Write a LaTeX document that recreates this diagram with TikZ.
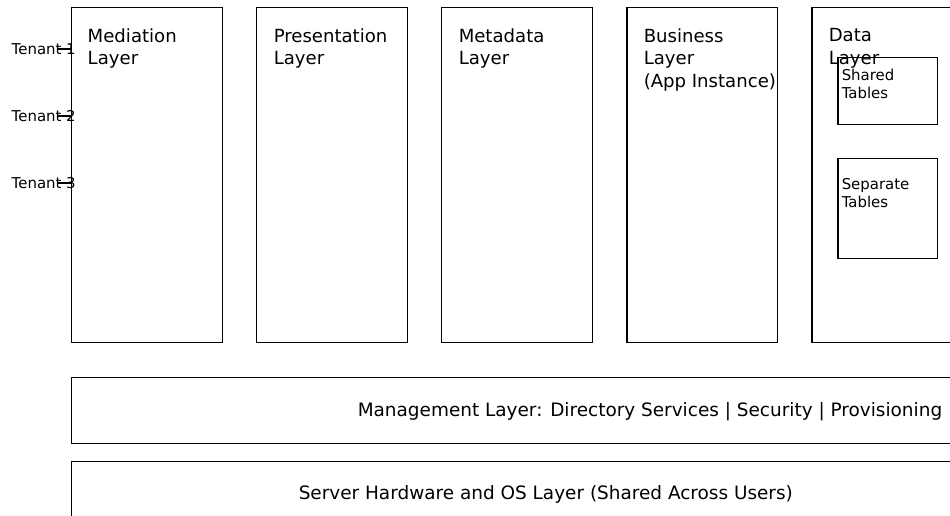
\documentclass[tikz,border=0pt]{standalone}
\usepackage{fontspec}
\setmainfont{DejaVu Sans}
\begin{document}
\begin{tikzpicture}[x=0.02cm,y=-0.02cm,line width=0.85pt,
  layer/.style={draw,minimum width=3.02cm,minimum height=6.7cm,anchor=north west,inner sep=0},
  tablebox/.style={draw,minimum width=2cm,minimum height=#1,anchor=north west,inner sep=0},
  bar/.style={draw,minimum width=18.6cm,minimum height=#1,anchor=north west,inner sep=0},
  head/.style={anchor=north west,align=left,inner sep=0,font=\fontsize{10.3}{12.7}\selectfont},
  bartxt/.style={anchor=base west,inner sep=0,font=\fontsize{10.5}{12.7}\selectfont},
  small/.style={align=left,inner sep=0,font=\fontsize{8.5}{10.2}\selectfont}]
  \useasboundingbox (0,0) rectangle (950,516);
  \clip (0,0) rectangle (950,516);
  % layers
  \node[layer] (med) at (71,7) {};
  \node[layer] (pres) at (256,7) {};
  \node[layer] (meta) at (441,7) {};
  \node[layer] (bus) at (626,7) {};
  \node[layer] (data) at (811,7) {};
  \node[head] (medtxt) at (87,28) {Mediation\\Layer};
  \node[head] (prestxt) at (273,28) {Presentation\\Layer};
  \node[head] (metatxt) at (458,28) {Metadata\\Layer};
  \node[head] (bustxt) at (643,28) {Business\\Layer\\(App Instance)};
  \node[head] (datatxt) at (828,28) {Data\\Layer};
  % tables inside the data layer
  \node[tablebox=1.34cm] (shared) at (837,57) {};
  \node[tablebox=2cm] (separate) at (837,158) {};
  \node[small,anchor=north west] (sharedtxt) at (841,68) {Shared\\Tables};
  \node[small,anchor=north west] (separatetxt) at (841,178) {Separate\\Tables};
  % tenants
  \foreach \i/\y in {1/49,2/116,3/183} {
    \node[small,anchor=west] (t\i) at (11,\y) {Tenant \i};
    \draw (58,\y) -- (med.west |- t\i);
  }
  % shared layers below
  \node[bar=1.32cm] (mgmt) at (71,377) {};
  \node[bar=1.6cm] (server) at (71,461) {};
  \node[bartxt] (mgmttxt) at (357,417) {Management Layer: Directory Services | Security | Provisioning};
  \node[bartxt] (servertxt) at (298,500) {Server Hardware and OS Layer (Shared Across Users)};
\end{tikzpicture}
\end{document}
